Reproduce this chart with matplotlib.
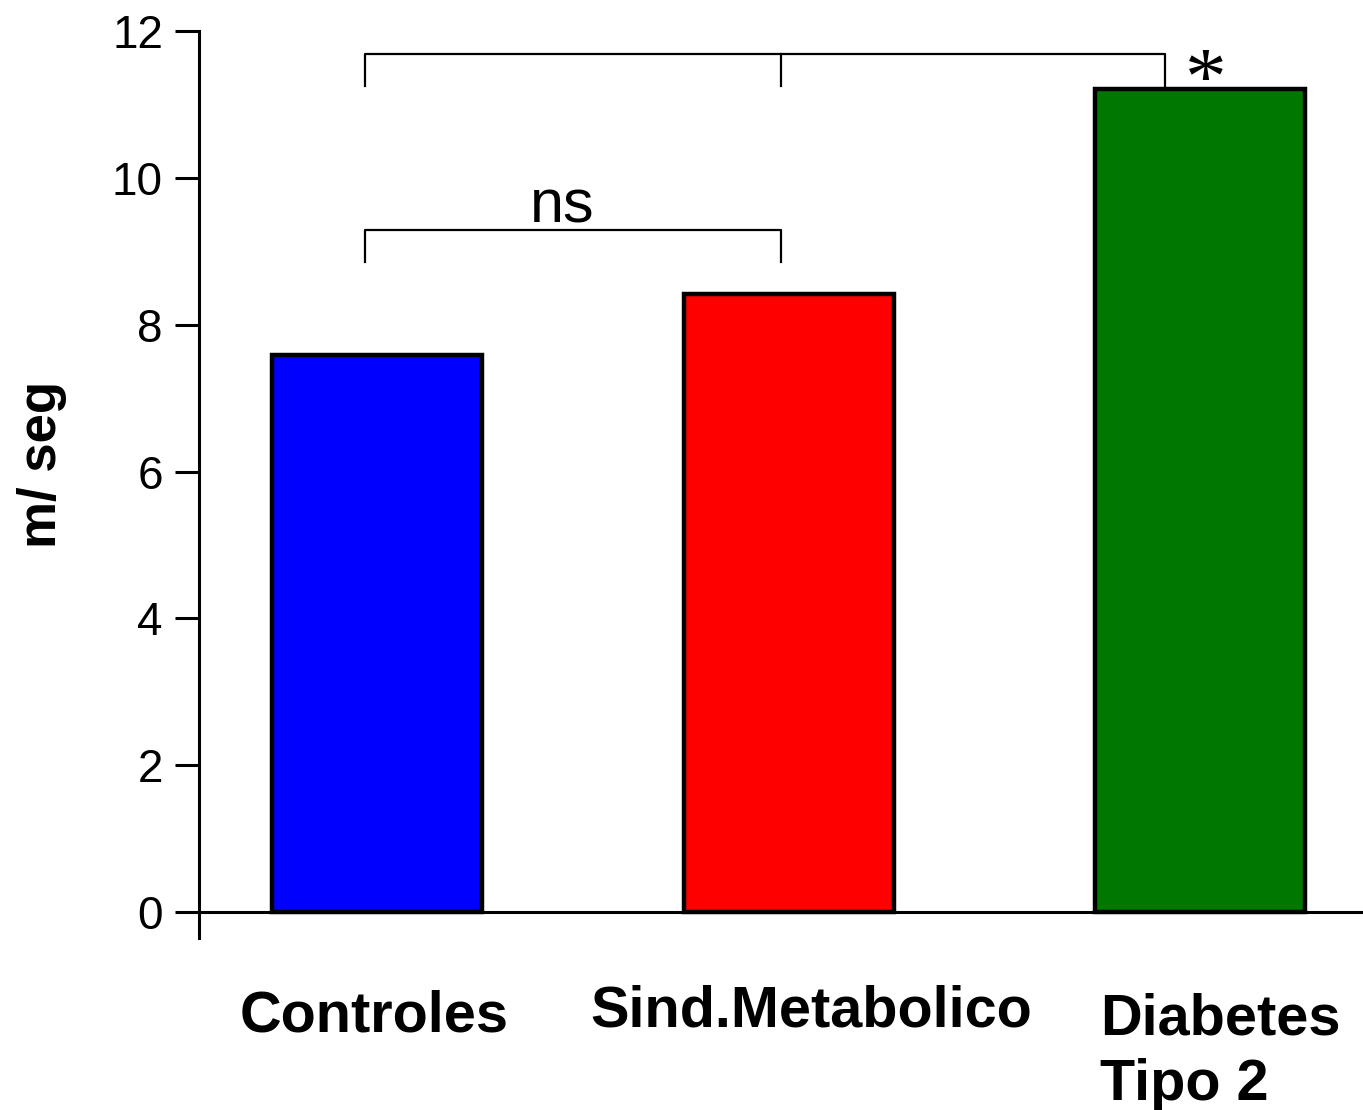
import matplotlib.pyplot as plt

plt.rcParams['font.family'] = ['Liberation Sans', 'DejaVu Sans']

groups = ['Controles', 'Sind.Metabolico', 'Diabetes\nTipo 2']
values = [7.59, 8.42, 11.21]
colors = ['#0000ff', '#ff0000', '#007800']
y_ticks = [0, 2, 4, 6, 8, 10, 12]

fig = plt.figure(figsize=(13.63, 11.10), dpi=100)
ax = fig.add_axes([0.146, 0.155, 0.854, 0.817])

x = list(range(len(groups)))
ax.bar(x, values, width=0.51, color=colors, edgecolor='black',
       linewidth=3.2, zorder=3)

ax.set_xlim(-0.432, 2.395)
ax.set_ylim(-0.354, 12)
ax.set_yticks(y_ticks)
ax.set_yticklabels([str(t) for t in y_ticks], fontsize=33)
ax.tick_params(axis='y', length=17, width=2.2, pad=9)
ax.tick_params(axis='x', bottom=False, labelbottom=False)

for side in ['top', 'right']:
    ax.spines[side].set_visible(False)
ax.spines['left'].set_linewidth(2.2)
ax.spines['bottom'].set_linewidth(2.2)
ax.spines['bottom'].set_position(('data', 0))
ax.spines['bottom'].set_zorder(2)

fig.text(42 / 1363, 1 - 464 / 1110, 'm/ seg', rotation=90, ha='center',
         va='center', fontsize=38, fontweight='bold')

# group names under the baseline
ax.text(-0.007, -1.43, groups[0], ha='center', va='center', fontsize=41.5,
        fontweight='bold')
ax.text(1.054, -1.36, groups[1], ha='center', va='center', fontsize=41.5,
        fontweight='bold')
line1, line2 = groups[2].split('\n')
ax.text(1.756, -1.675, line1, ha='left', va='baseline', fontsize=41.5,
        fontweight='bold')
ax.text(1.756, -2.56, line2, ha='left', va='baseline', fontsize=41.5,
        fontweight='bold')

# significance brackets
lw = 1.6
ax.plot([-0.029, -0.029, 0.982, 0.982], [8.86, 9.29, 9.29, 8.86],
        color='black', lw=lw, clip_on=False)
ax.text(0.45, 9.60, 'ns', ha='center', va='center', fontsize=44)

ax.plot([-0.029, -0.029, 1.915, 1.915], [11.25, 11.69, 11.69, 11.25],
        color='black', lw=lw, clip_on=False)
ax.plot([0.982, 0.982], [11.25, 11.69], color='black', lw=lw, clip_on=False)
ax.text(2.014, 11.0, '*', ha='center', va='baseline', fontsize=60,
        family=['Liberation Serif', 'DejaVu Serif'])

fig.savefig('out.png', dpi=100)
